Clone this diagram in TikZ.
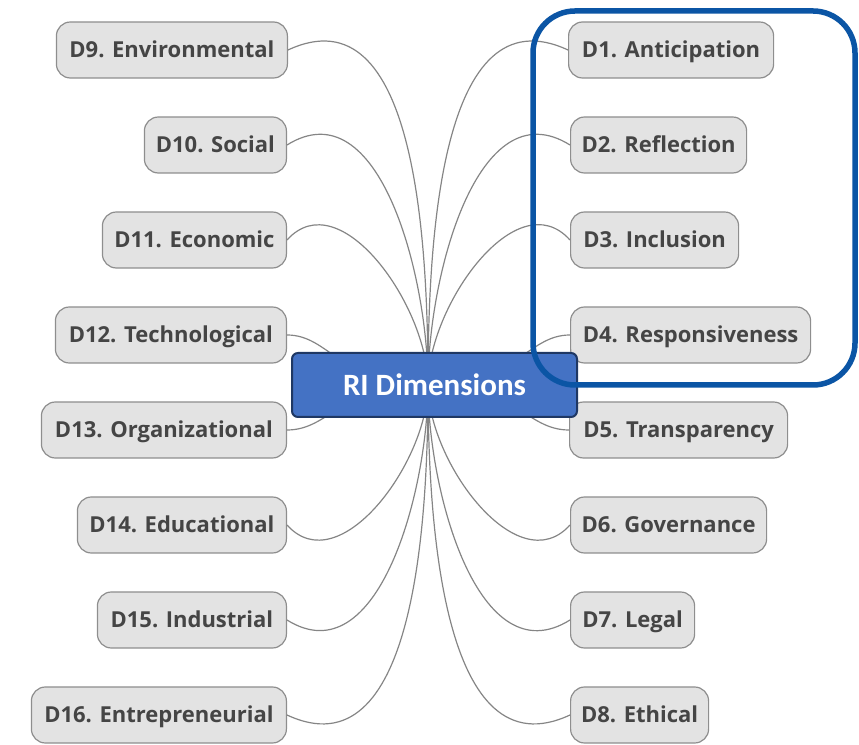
\documentclass[tikz,border=0pt]{standalone}
\usepackage{fontspec}
\setmainfont{Open Sans}
\newfontfamily\carlito{Carlito}
\definecolor{boxfill}{HTML}{E3E3E3}
\definecolor{boxline}{HTML}{8E8E8E}
\definecolor{boxtext}{HTML}{454545}
\definecolor{linkgray}{HTML}{858585}
\definecolor{rifill}{HTML}{4472C4}
\definecolor{riline}{HTML}{1F3864}
\definecolor{frameblue}{HTML}{0B55A5}
\begin{document}
\begin{tikzpicture}[x=1pt,y=1pt,
  dim/.style={draw=boxline, fill=boxfill, rounded corners=14pt, line width=1.2pt,
    minimum height=56pt, inner xsep=0pt, inner ysep=0pt, text=boxtext,
    text height=15.7pt, text depth=0pt,
    font=\fontsize{22}{26}\selectfont\bfseries},
  rnode/.style={dim, anchor=west},
  lnode/.style={dim, anchor=east},
  link/.style={draw=linkgray, line width=1.2pt},
  centerbox/.style={draw=riline, fill=rifill, rounded corners=6pt, line width=2pt,
    minimum width=285pt, minimum height=64pt, text=white,
    font=\carlito\fontsize{31}{36}\selectfont\bfseries},
  hilite/.style={draw=frameblue, line width=5.5pt, rounded corners=42pt}]
\useasboundingbox (0,0) rectangle (859,744);
\coordinate (c) at (428,359);
% right column
\node[rnode, minimum width=205pt] (d1) at (568,694) {D1. Anticipation};
\node[rnode, minimum width=176pt] (d2) at (570,599) {D2. Reflection};
\node[rnode, minimum width=168pt] (d3) at (570,504) {D3. Inclusion};
\node[rnode, minimum width=240pt] (d4) at (570,409) {D4. Responsiveness};
\node[rnode, minimum width=218pt] (d5) at (569,314) {D5. Transparency};
\node[rnode, minimum width=196pt] (d6) at (570,219) {D6. Governance};
\node[rnode, minimum width=124pt] (d7) at (570,124) {D7. Legal};
\node[rnode, minimum width=138pt] (d8) at (570,29) {D8. Ethical};
% left column
\node[lnode, minimum width=231pt] (d9) at (288,694) {D9. Environmental};
\node[lnode, minimum width=142pt] (d10) at (287,599) {D10. Social};
\node[lnode, minimum width=184pt] (d11) at (287,504) {D11. Economic};
\node[lnode, minimum width=231pt] (d12) at (287,409) {D12. Technological};
\node[lnode, minimum width=245pt] (d13) at (287,314) {D13. Organizational};
\node[lnode, minimum width=209pt] (d14) at (287,219) {D14. Educational};
\node[lnode, minimum width=189pt] (d15) at (287,124) {D15. Industrial};
\node[lnode, minimum width=255pt] (d16) at (287,29) {D16. Entrepreneurial};
% connectors
\draw[link] (c) to[out=90,in=25] (d9.east);
\draw[link] (c) to[out=90,in=32] (d10.east);
\draw[link] (c) to[out=90,in=48] (d11.east);
\draw[link] (c) .. controls +(-88,0) and +(43,0) .. (d12.east);
\draw[link] (c) .. controls +(-88,0) and +(43,0) .. (d13.east);
\draw[link] (c) to[out=-90,in=-48] (d14.east);
\draw[link] (c) to[out=-90,in=-32] (d15.east);
\draw[link] (c) to[out=-90,in=-25] (d16.east);
\draw[link] (c) to[out=90,in=155] (d1.west);
\draw[link] (c) to[out=90,in=148] (d2.west);
\draw[link] (c) to[out=90,in=132] (d3.west);
\draw[link] (c) .. controls +(88,0) and +(-43,0) .. (d4.west);
\draw[link] (c) .. controls +(88,0) and +(-43,0) .. (d5.west);
\draw[link] (c) to[out=-90,in=-132] (d6.west);
\draw[link] (c) to[out=-90,in=-148] (d7.west);
\draw[link] (c) to[out=-90,in=-155] (d8.west);
% centre
\node[centerbox] (ri) at (434.5,359) {RI Dimensions};
% highlight frame
\draw[hilite] (533,733) rectangle (855,359);
\end{tikzpicture}
\end{document}
